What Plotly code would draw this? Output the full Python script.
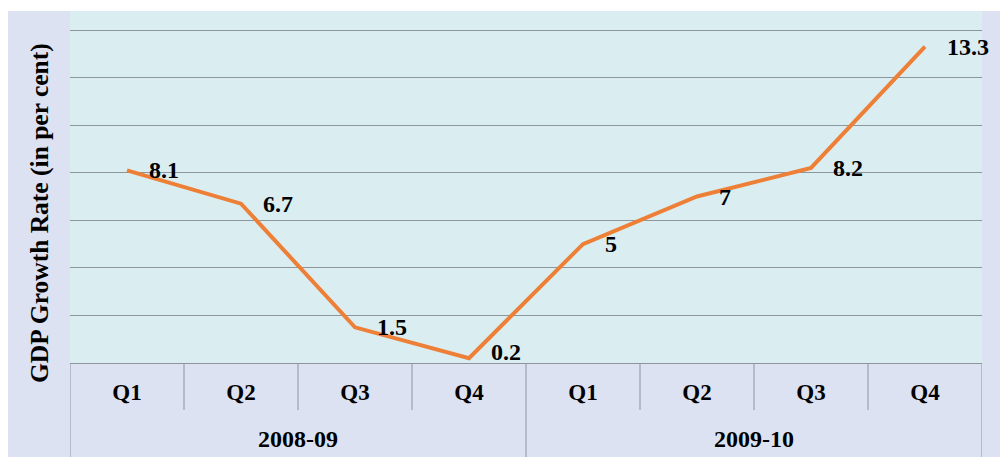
import plotly.graph_objects as go

quarters = ["Q1", "Q2", "Q3", "Q4", "Q1", "Q2", "Q3", "Q4"]
years = ["2008-09"] * 4 + ["2009-10"] * 4
growth = [8.1, 6.7, 1.5, 0.2, 5, 7, 8.2, 13.3]
y_top = 14.8

W, H = 1002, 457
L, R, T, B = 70, 20, 11, 94
PW, PH = W - L - R, H - T - B

FONT = "Liberation Serif, Times New Roman, serif"
ORANGE = "#EE7F36"
GRID = "#8E959C"
LAV = "#DCE2F2"
CYAN = "#DAEEF2"

idx = list(range(len(growth)))

fig = go.Figure()
fig.add_trace(go.Scatter(x=idx, y=growth, mode="lines",
                         line=dict(color=ORANGE, width=4), hoverinfo="skip",
                         showlegend=False))

px_per_unit = PH / y_top
half_h = 11
for i, v in zip(idx, growth):
    ys = max(0, half_h - v * px_per_unit)
    fig.add_annotation(x=i, y=v, xref="x", yref="y", text=f"<b>{v:g}</b>",
                       showarrow=False, xanchor="left", yanchor="middle",
                       xshift=20, yshift=ys,
                       font=dict(family=FONT, size=24, color="black"))

groups = []
for y in years:
    if y not in groups:
        groups.append(y)
for g in groups:
    members = [i for i, y in zip(idx, years) if y == g]
    c = sum(members) / len(members)
    fig.add_annotation(x=c, y=-76 / PH, xref="x", yref="paper", text=f"<b>{g}</b>",
                       showarrow=False, xanchor="center", yanchor="middle",
                       font=dict(family=FONT, size=24, color="black"))

shapes = []
for i in idx[:-1]:
    full = years[i] != years[i + 1]
    shapes.append(dict(type="line", xref="x", yref="paper", x0=i + 0.5, x1=i + 0.5,
                       y0=0, y1=(-B / PH) if full else (-47 / PH),
                       line=dict(color=GRID, width=1)))
for xe in (idx[0] - 0.5, idx[-1] + 0.5):
    shapes.append(dict(type="line", xref="x", yref="paper", x0=xe, x1=xe,
                       y0=0, y1=-B / PH, line=dict(color=GRID, width=1)))
shapes.append(dict(type="rect", xref="paper", yref="paper", layer="below",
                   x0=-L / PW, x1=1 + R / PW, y0=1, y1=1 + (T + 1) / PH,
                   fillcolor="white", line=dict(width=0)))
shapes.append(dict(type="rect", xref="paper", yref="paper", layer="below",
                   x0=-L / PW, x1=-(L - 8) / PW, y0=-B / PH, y1=1 + T / PH,
                   fillcolor="white", line=dict(width=0)))
shapes.append(dict(type="rect", xref="paper", yref="paper", layer="below",
                   x0=1 + (R - 2) / PW, x1=1 + R / PW, y0=-B / PH, y1=1 + T / PH,
                   fillcolor="white", line=dict(width=0)))

fig.add_annotation(x=-31 / PW, y=(363 - 213) / PH, xref="paper", yref="paper",
                   text="<b>GDP Growth Rate (in per cent)</b>", textangle=-90,
                   showarrow=False, xanchor="center", yanchor="middle",
                   font=dict(family=FONT, size=25.5, color="black"))

fig.update_layout(
    width=W, height=H,
    margin=dict(l=L, r=R, t=T, b=B),
    paper_bgcolor=LAV, plot_bgcolor=CYAN,
    shapes=shapes,
    xaxis=dict(range=[-0.5, len(growth) - 0.5], tickvals=idx,
               ticktext=[f"<b>{q}</b>" for q in quarters],
               tickfont=dict(family=FONT, size=23, color="black"),
               ticks="", showgrid=False, zeroline=False, showline=True,
               linecolor=GRID, linewidth=1, ticklabelstandoff=8, fixedrange=True),
    yaxis=dict(range=[0, y_top], tick0=0, dtick=2, showticklabels=False,
               showgrid=True, gridcolor=GRID, gridwidth=1, zeroline=False,
               showline=False, ticks="", fixedrange=True),
)

fig.write_html("out.html")
